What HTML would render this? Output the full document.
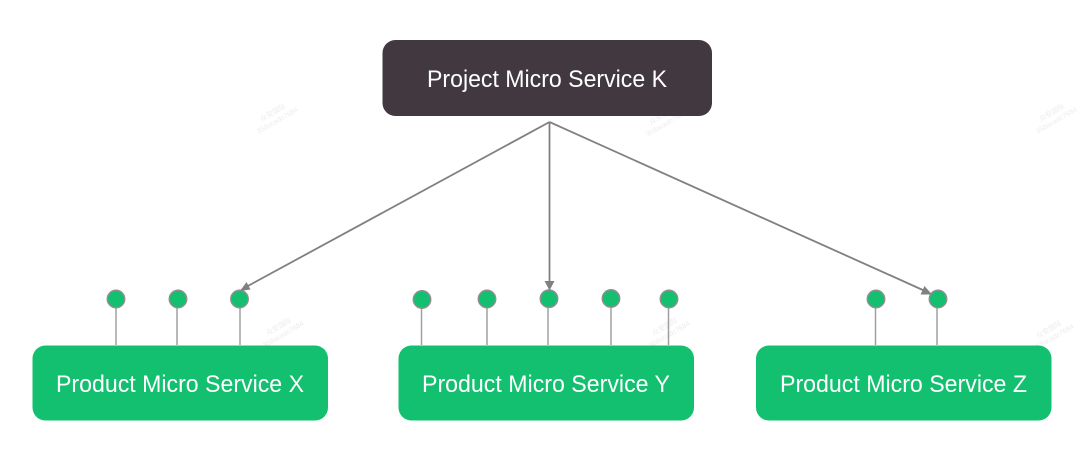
<!DOCTYPE html>
<html>
<head>
<meta charset="utf-8">
<style>
html,body{margin:0;padding:0;background:#fff;width:1080px;height:471px;overflow:hidden}
svg{display:block}
text{font-family:"Liberation Sans",sans-serif;font-size:24px;fill:#fff}
text.w{font-family:"Liberation Sans","Noto Sans CJK SC",sans-serif;font-size:7px;fill:#ececec;text-anchor:middle}
</style>
</head>
<body>
<svg width="1080" height="471" viewBox="0 0 1080 471" xmlns="http://www.w3.org/2000/svg">
<rect width="1080" height="471" fill="#fff"/>
<g transform="translate(276,118) rotate(-30)"><text class="w" y="-4">众安国际</text><text class="w" y="5">358acadc7684</text></g>
<g transform="translate(665,121) rotate(-30)"><text class="w" y="-4">众安国际</text><text class="w" y="5">358acadc7684</text></g>
<g transform="translate(1055,118) rotate(-30)"><text class="w" y="-4">众安国际</text><text class="w" y="5">358acadc7684</text></g>
<g transform="translate(282,332) rotate(-30)"><text class="w" y="-4">众安国际</text><text class="w" y="5">358acadc7684</text></g>
<g transform="translate(668,332) rotate(-30)"><text class="w" y="-4">众安国际</text><text class="w" y="5">358acadc7684</text></g>
<g transform="translate(1052,335) rotate(-30)"><text class="w" y="-4">众安国际</text><text class="w" y="5">358acadc7684</text></g>
<g stroke="#a0a0a0" stroke-width="1.5" fill="none">
<line x1="116" y1="308" x2="116" y2="345"/>
<line x1="177" y1="308" x2="177" y2="345"/>
<line x1="240" y1="308" x2="240" y2="345"/>
<line x1="421.5" y1="308" x2="421.5" y2="345"/>
<line x1="487" y1="308" x2="487" y2="345"/>
<line x1="548" y1="308" x2="548" y2="345"/>
<line x1="611" y1="308" x2="611" y2="345"/>
<line x1="668.5" y1="308" x2="668.5" y2="345"/>
<line x1="875.5" y1="308" x2="875.5" y2="345"/>
<line x1="937" y1="308" x2="937" y2="345"/>
</g>
<g fill="#12c06f" stroke="#8f8f8f" stroke-width="1.5">
<circle cx="116" cy="299" r="8.7"/>
<circle cx="178" cy="299" r="8.7"/>
<circle cx="239.500" cy="299" r="8.7"/>
<circle cx="422" cy="299.500" r="8.7"/>
<circle cx="487" cy="299" r="8.7"/>
<circle cx="549" cy="298.700" r="8.7"/>
<circle cx="611" cy="298.500" r="8.7"/>
<circle cx="669" cy="299" r="8.7"/>
<circle cx="876" cy="299" r="8.7"/>
<circle cx="938" cy="299" r="8.7"/>
</g>
<g stroke="#808080" stroke-width="1.8" fill="none">
<line x1="549.500" y1="122" x2="246" y2="287"/>
<line x1="549.500" y1="122" x2="549.500" y2="283"/>
<line x1="549.500" y1="122" x2="925" y2="291"/>
</g>
<g fill="#808080">
<polygon points="240,291 246.500,282 250.500,289.500"/>
<polygon points="549.500,290.500 544.500,281 554.500,281"/>
<polygon points="932,294.500 920.500,294.500 924.500,286"/>
</g>
<rect x="382.500" y="40" width="329.500" height="76" rx="13" fill="#41393f"/>
<rect x="32.500" y="345.500" width="295.500" height="75" rx="13" fill="#12c06f"/>
<rect x="398.500" y="345.500" width="295.500" height="75" rx="13" fill="#12c06f"/>
<rect x="756" y="345.500" width="295.500" height="75" rx="13" fill="#12c06f"/>
<text x="427" y="87" textLength="240" lengthAdjust="spacingAndGlyphs">Project Micro Service K</text>
<text x="56" y="392" textLength="248" lengthAdjust="spacingAndGlyphs">Product Micro Service X</text>
<text x="422" y="392" textLength="248" lengthAdjust="spacingAndGlyphs">Product Micro Service Y</text>
<text x="780" y="392" textLength="247" lengthAdjust="spacingAndGlyphs">Product Micro Service Z</text>
</svg>
</body>
</html>
